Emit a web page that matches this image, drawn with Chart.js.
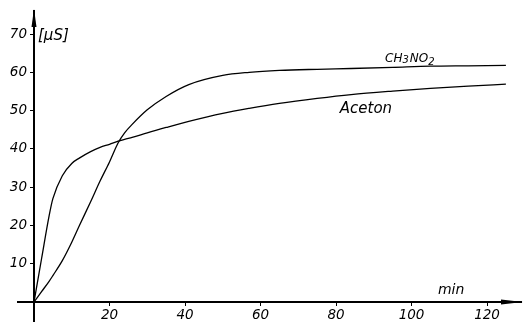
<!DOCTYPE html>
<html>
<head>
<meta charset="utf-8">
<script src="https://cdn.jsdelivr.net/npm/chart.js@4/dist/chart.umd.min.js"></script>
<style>
  html, body { margin: 0; padding: 0; background: #fff; }
  #wrap { width: 523px; height: 322px; }
</style>
</head>
<body>
<div id="wrap"><canvas id="chart"></canvas></div>
<script>
// time in minutes
const minutes = [0, 2, 4, 5, 7.5, 10, 12, 15, 17.5, 20, 22.3, 24, 26, 30, 35, 41, 50, 57, 65, 75, 84, 95, 105, 115, 125];
// conductivity in µS
const nitromethane = [0, 2.7, 5.4, 6.9, 10.8, 15.6, 19.9, 26.2, 31.6, 36.6, 41.6, 44.2, 46.4, 50.2, 53.7, 56.8, 59.2, 60, 60.5, 60.8, 61, 61.3, 61.6, 61.7, 61.8];
const aceton = [0, 11.3, 22.5, 27, 33, 36.2, 37.6, 39.3, 40.4, 41.2, 42, 42.5, 43, 44.2, 45.6, 47.2, 49.3, 50.6, 51.9, 53.2, 54.2, 55.1, 55.8, 56.4, 56.9];
const xTickValues = [20, 40, 60, 80, 100, 120];
const yTickValues = [10, 20, 30, 40, 50, 60, 70];

const handFont = { family: "'DejaVu Sans'", style: 'italic', size: 13.5 };

const toPoints = (ys) => ys.map((y, i) => ({ x: minutes[i], y: y }));

// arrows, axis stubs and curve labels
const decor = {
  id: 'decor',
  afterDraw(chart) {
    const ctx = chart.ctx;
    const xs = chart.scales.x, ys = chart.scales.y;
    const x0 = xs.getPixelForValue(0), y0 = ys.getPixelForValue(0);
    const area = chart.chartArea;
    ctx.save();
    ctx.strokeStyle = '#000';
    ctx.fillStyle = '#000';
    ctx.lineWidth = 2;
    ctx.beginPath();
    ctx.moveTo(17, y0); ctx.lineTo(x0, y0);
    ctx.moveTo(x0, y0); ctx.lineTo(x0, 322);
    ctx.stroke();
    // y arrow
    ctx.beginPath();
    ctx.moveTo(x0, area.top - 2);
    ctx.lineTo(x0 - 2.5, area.top + 16);
    ctx.lineTo(x0 + 2.5, area.top + 16);
    ctx.closePath(); ctx.fill();
    // x arrow
    ctx.beginPath();
    ctx.moveTo(area.right + 2, y0);
    ctx.lineTo(area.right - 20, y0 - 2.5);
    ctx.lineTo(area.right - 20, y0 + 2.5);
    ctx.closePath(); ctx.fill();

    ctx.textBaseline = 'alphabetic';
    ctx.textAlign = 'left';
    ctx.font = "italic 15px 'DejaVu Sans'";
    ctx.fillText('[µS]', x0 + 4, ys.getPixelForValue(70) + 6);
    ctx.font = "italic 14px 'DejaVu Sans'";
    ctx.fillText('min', xs.getPixelForValue(107), y0 - 8);
    ctx.font = "italic 15px 'DejaVu Sans'";
    ctx.fillText('Aceton', xs.getPixelForValue(81), ys.getPixelForValue(49.5));
    ctx.font = "italic 12px 'DejaVu Sans'";
    const cx = xs.getPixelForValue(93), cy = ys.getPixelForValue(62.8);
    ctx.fillText('CH', cx, cy);
    let w = ctx.measureText('CH').width;
    ctx.font = "italic 10px 'DejaVu Sans'";
    ctx.fillText('3', cx + w, cy + 1);
    w += ctx.measureText('3').width + 1;
    ctx.font = "italic 12px 'DejaVu Sans'";
    ctx.fillText('NO', cx + w, cy);
    w += ctx.measureText('NO').width;
    ctx.font = "italic 10px 'DejaVu Sans'";
    ctx.fillText('2', cx + w, cy + 3);
    ctx.restore();
  }
};

new Chart(document.getElementById('chart'), {
  type: 'line',
  data: {
    datasets: [
      {
        label: 'CH3NO2',
        data: toPoints(nitromethane),
        borderColor: '#000',
        borderWidth: 1.3,
        pointRadius: 0,
        cubicInterpolationMode: 'monotone'
      },
      {
        label: 'Aceton',
        data: toPoints(aceton),
        borderColor: '#000',
        borderWidth: 1.3,
        pointRadius: 0,
        cubicInterpolationMode: 'monotone'
      }
    ]
  },
  options: {
    responsive: true,
    maintainAspectRatio: false,
    animation: false,
    layout: { padding: { top: 10, right: 2 } },
    plugins: { legend: { display: false }, tooltip: { enabled: false } },
    scales: {
      x: {
        type: 'linear',
        min: 0,
        max: 129,
        afterFit: (s) => { s.height = 20; },
        afterBuildTicks: (s) => { s.ticks = xTickValues.map((v) => ({ value: v })); },
        border: { display: true, color: '#000', width: 2 },
        grid: { drawOnChartArea: false, drawTicks: true, tickLength: 4, color: '#000' },
        ticks: {
          padding: 1,
          color: '#000',
          font: handFont,
          maxRotation: 0,
          autoSkip: false
        }
      },
      y: {
        min: 0,
        max: 76,
        afterFit: (s) => { s.width = 34; },
        afterBuildTicks: (s) => { s.ticks = yTickValues.map((v) => ({ value: v })); },
        border: { display: true, color: '#000', width: 2 },
        grid: { drawOnChartArea: false, drawTicks: true, tickLength: 4, color: '#000' },
        ticks: {
          padding: 3,
          color: '#000',
          font: handFont,
          autoSkip: false
        }
      }
    }
  },
  plugins: [decor]
});
</script>
</body>
</html>
